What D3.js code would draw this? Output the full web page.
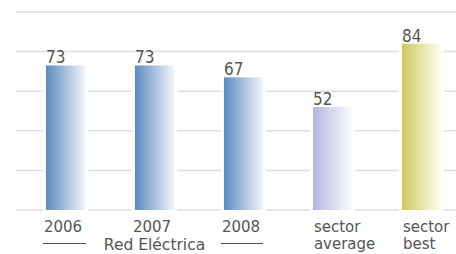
<!DOCTYPE html>
<html>
<head>
<meta charset="utf-8">
<script src="https://cdn.jsdelivr.net/npm/d3@7"></script>
<style>
  body { margin: 0; background: #ffffff; }
  svg { display: block; }
  text { font-family: "DejaVu Sans", sans-serif; fill: #555555; }
  .value { font-family: "DejaVu Sans Condensed", "DejaVu Sans", sans-serif; font-stretch: condensed; }
</style>
</head>
<body>
<svg id="chart"></svg>
<script>
const categories = ["2006", "2007", "2008", "sector average", "sector best"];
const categoryLines = [["2006"], ["2007"], ["2008"], ["sector", "average"], ["sector", "best"]];
const values = [73, 73, 67, 52, 84];
const barGroups = ["red", "red", "red", "avg", "best"];
const yTicks = [0, 20, 40, 60, 80, 100];
const groupLabel = "Red Eléctrica";

const width = 456, height = 254;
const svg = d3.select("#chart").attr("width", width).attr("height", height);

const x = d3.scaleBand()
  .domain(categories)
  .range([21, 466])
  .paddingInner(0.56)
  .paddingOuter(0.28);

const y = d3.scaleLinear().domain([0, 100]).range([210, 12]);

const gradColors = {
  red: ["#5a8bc0", "#f2f5fb"],
  avg: ["#b2b8df", "#fbfbff"],
  best: ["#cfca5e", "#fdfdf2"]
};
const defs = svg.append("defs");
Object.keys(gradColors).forEach(function(k) {
  const g = defs.append("linearGradient").attr("id", "grad-" + k)
    .attr("x1", "0%").attr("x2", "100%").attr("y1", "0%").attr("y2", "0%");
  g.append("stop").attr("offset", "0%").attr("stop-color", gradColors[k][0]);
  g.append("stop").attr("offset", "100%").attr("stop-color", gradColors[k][1]);
});

// grid
svg.append("g")
  .selectAll("line")
  .data(yTicks)
  .join("line")
  .attr("x1", 16).attr("x2", width)
  .attr("y1", function(d) { return y(d); })
  .attr("y2", function(d) { return y(d); })
  .attr("stroke", "#dedede")
  .attr("stroke-width", 1.5);

// white gap around bars
svg.append("g")
  .selectAll("rect")
  .data(values)
  .join("rect")
  .attr("x", function(d, i) { return x(categories[i]) - 3; })
  .attr("y", function(d) { return y(d); })
  .attr("width", x.bandwidth() + 6)
  .attr("height", function(d) { return y(0) - y(d) + 1; })
  .attr("fill", "#ffffff");

svg.append("g")
  .selectAll("rect")
  .data(values)
  .join("rect")
  .attr("x", function(d, i) { return x(categories[i]); })
  .attr("y", function(d) { return y(d); })
  .attr("width", x.bandwidth())
  .attr("height", function(d) { return y(0) - y(d); })
  .attr("fill", function(d, i) { return "url(#grad-" + barGroups[i] + ")"; });

// value labels
svg.append("g")
  .selectAll("text")
  .data(values)
  .join("text")
  .attr("class", "value")
  .attr("x", function(d, i) { return x(categories[i]); })
  .attr("y", function(d) { return y(d) - 2; })
  .style("font-size", "17px")
  .text(function(d) { return d; });

// category labels
const catG = svg.append("g");
categoryLines.forEach(function(lines, i) {
  const lx = x(categories[i]) + (i < 3 ? -2 : 1);
  const t = catG.append("text")
    .attr("x", lx)
    .attr("y", 232)
    .style("font-size", "15px");
  lines.forEach(function(s, j) {
    t.append("tspan").attr("x", lx).attr("dy", j === 0 ? 0 : 17).text(s);
  });
});

// group label with lines
const cx = x(categories[1]) + x.bandwidth() / 2;
svg.append("text")
  .attr("x", cx)
  .attr("y", 249.5)
  .attr("text-anchor", "middle")
  .style("font-size", "15.5px")
  .text(groupLabel);
svg.append("line")
  .attr("x1", x(categories[0]) - 3).attr("x2", x(categories[0]) + x.bandwidth() + 1)
  .attr("y1", 243.5).attr("y2", 243.5)
  .attr("stroke", "#555555").attr("stroke-width", 1);
svg.append("line")
  .attr("x1", x(categories[2]) - 3).attr("x2", x(categories[2]) + x.bandwidth())
  .attr("y1", 243.5).attr("y2", 243.5)
  .attr("stroke", "#555555").attr("stroke-width", 1);
</script>
</body>
</html>
